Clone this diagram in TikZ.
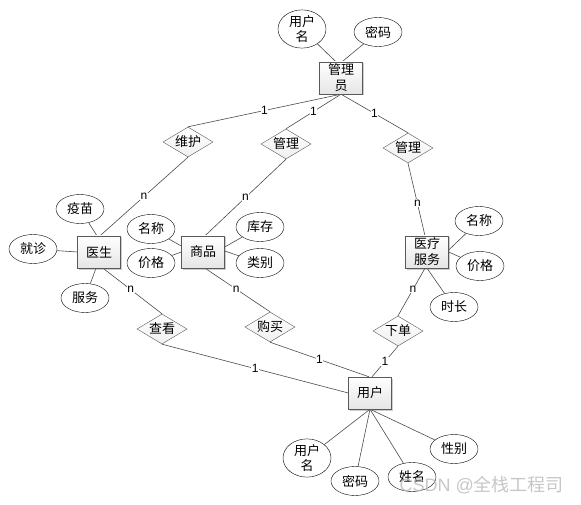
\documentclass[tikz,border=0pt]{standalone}
\usepackage{fontspec}
\setmainfont{Liberation Sans}
\newfontfamily\cjk{Noto Sans CJK SC}
\usetikzlibrary{shapes.geometric,shadows,calc}
\tikzset{
  entity/.style={rectangle, draw=gray!70!black, top color=white, bottom color=gray!20,
    minimum width=43pt, minimum height=32pt, inner sep=0pt, align=center,
    font=\cjk\fontsize{13}{16}\selectfont,
    drop shadow={opacity=0.22, shadow xshift=1.5pt, shadow yshift=-1.5pt}},
  attr/.style={ellipse, draw=black, fill=white, minimum width=48pt, minimum height=29pt,
    inner sep=0pt, align=center, font=\cjk\fontsize{13}{15}\selectfont},
  rel/.style={diamond, aspect=1.667, draw=gray!70!black, top color=white, bottom color=gray!12,
    minimum width=50pt, minimum height=30pt, inner sep=0pt, font=\cjk\fontsize{13}{15}\selectfont},
  conn/.style={draw=black!70, line width=0.6pt},
  card/.style={font=\fontsize{12}{13}\selectfont, fill=white, inner sep=0.6pt}
}
\begin{document}
\begin{tikzpicture}[x=1pt,y=-1pt]
\useasboundingbox (0,0) rectangle (581,505);
\fill[white] (0,0) rectangle (581,505);

% entities
\node[entity] (mgr) at (341,78) {管理\\员};
\node[entity] (doc) at (99,252) {医生};
\node[entity] (sp) at (203,252) {商品};
\node[entity] (med) at (427,252) {医疗\\服务};
\node[entity] (usr) at (370,393) {用户};

% relationships
\node[rel] (wh) at (188,142) {维护};
\node[rel] (gl1) at (286,144) {管理};
\node[rel] (gl2) at (408,148) {管理};
\node[rel] (ck) at (162,329) {查看};
\node[rel] (gm) at (270,327) {购买};
\node[rel] (xd) at (398,331) {下单};

% attributes
\node[attr, minimum height=33pt] (mun) at (302,29) {用户\\名};
\node[attr] (mpw) at (378,32) {密码};
\node[attr] (ym) at (80,209) {疫苗};
\node[attr] (jz) at (33,249) {就诊};
\node[attr] (fw) at (85,298) {服务};
\node[attr] (spmc) at (151,229) {名称};
\node[attr] (spjg) at (151,263) {价格};
\node[attr] (kc) at (260,227) {库存};
\node[attr] (lb) at (260,263) {类别};
\node[attr] (mmc) at (479,221) {名称};
\node[attr] (mjg) at (480,266) {价格};
\node[attr] (sc) at (454,307) {时长};
\node[attr, minimum height=33pt] (uun) at (307,458) {用户\\名};
\node[attr] (upw) at (355,481) {密码};
\node[attr] (uxm) at (412,477) {姓名};
\node[attr] (uxb) at (454,449) {性别};

% attribute lines
\draw[conn] ($(mgr.north)+(-5,0)$) -- (mun);
\draw[conn] ($(mgr.north)+(1,0)$) -- (mpw);
\draw[conn] ($(doc.north)+(-2,0)$) -- (ym);
\draw[conn] (doc.west) -- (jz);
\draw[conn] ($(doc.south)+(-3,0)$) -- (fw);
\draw[conn] ($(sp.west)+(0,-6)$) -- (spmc);
\draw[conn] ($(sp.west)+(0,0)$) -- (spjg);
\draw[conn] ($(sp.east)+(0,-5)$) -- (kc);
\draw[conn] ($(sp.east)+(0,-1)$) -- (lb);
\draw[conn] ($(med.east)+(0,-2)$) -- (mmc);
\draw[conn] ($(med.east)+(0,0)$) -- (mjg);
\draw[conn] ($(med.south)+(0,0)$) -- (sc);
\draw[conn] (usr.south) -- (uun);
\draw[conn] (usr.south) -- (upw);
\draw[conn] (usr.south) -- (uxm);
\draw[conn] (usr.south) -- (uxb);

% relationship lines
\draw[conn] (mgr.south) -- node[card, pos=0.5] {1} (wh.north);
\draw[conn] (mgr.south) -- node[card, pos=0.5] {1} (gl1.north);
\draw[conn] (mgr.south) -- node[card, pos=0.5] {1} (gl2.north);
\draw[conn] (wh.south) -- node[card, pos=0.5] {n} ($(doc.north)+(1,0)$);
\draw[conn] (gl1.south) -- node[card, pos=0.5] {n} ($(sp.north)+(2,0)$);
\draw[conn] (gl2.south) -- node[card, pos=0.55] {n} ($(med.north)+(-2,0)$);
\draw[conn] ($(doc.south)+(4,0)$) -- node[card, pos=0.47] {n} (ck.north);
\draw[conn] ($(sp.south)+(2,0)$) -- node[card, pos=0.48] {n} (gm.north);
\draw[conn] ($(med.south)+(-2,0)$) -- node[card, pos=0.45] {n} (xd.north);
\draw[conn] (ck.south) -- node[card, pos=0.5] {1} ($(usr.west)+(0,0)$);
\draw[conn] (gm.south) -- node[card, pos=0.5] {1} ($(usr.north)+(-1,0)$);
\draw[conn] (xd.south) -- node[card, pos=0.5] {1} ($(usr.north)+(2,0)$);

% redraw entities on top of lines
\node[entity] at (mgr) {管理\\员};
\node[entity] at (doc) {医生};
\node[entity] at (sp) {商品};
\node[entity] at (med) {医疗\\服务};
\node[entity] at (usr) {用户};

% watermark
\node[text=gray!55, opacity=0.8, font=\fontsize{18}{20}\selectfont, anchor=west] (wm) at (396,485)
  {CSDN @{\cjk 全栈工程司}};
\end{tikzpicture}
\end{document}
